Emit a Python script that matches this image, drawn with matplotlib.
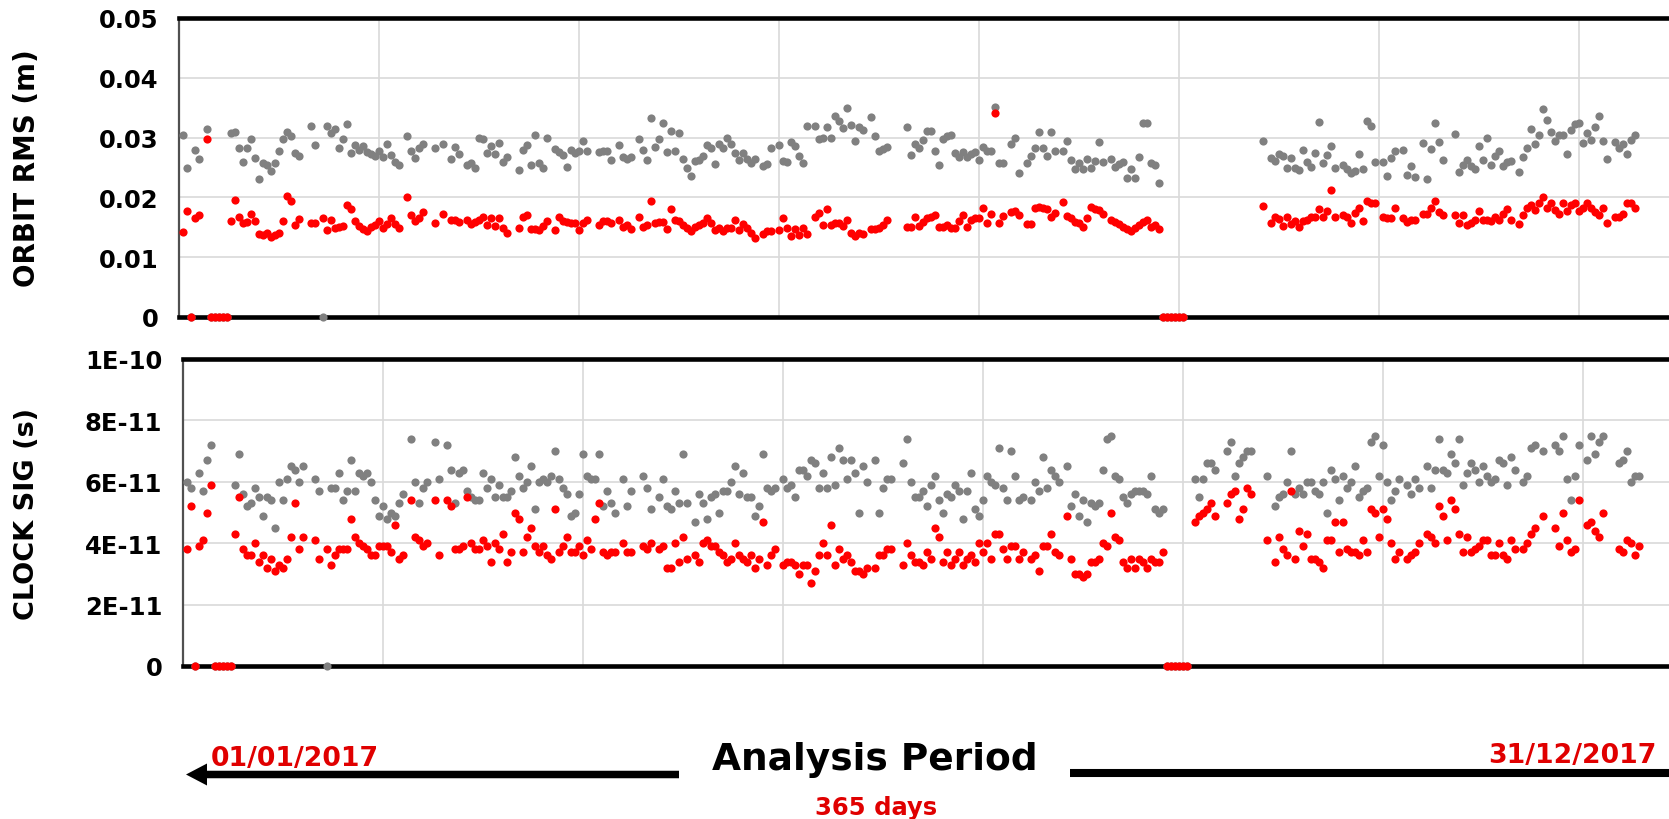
import numpy as np
import matplotlib
matplotlib.use("Agg")
import matplotlib.pyplot as plt
from matplotlib.patches import FancyArrow

# ---- orbit RMS (m), day of year ----
orbit_day = [
    1, 2, 3, 4, 5, 7, 8, 9, 10, 11,
    12, 13, 14, 15, 16, 17, 18, 19, 20, 21,
    22, 23, 24, 25, 26, 27, 28, 29, 30, 33,
    34, 36, 37, 38, 39, 40, 41, 42, 43, 44,
    45, 46, 47, 48, 49, 50, 51, 52, 53, 54,
    55, 57, 58, 59, 60, 61, 64, 66, 68, 69,
    70, 72, 73, 74, 75, 76, 77, 78, 79, 80,
    81, 82, 85, 86, 87, 88, 89, 90, 91, 92,
    94, 95, 96, 97, 98, 99, 100, 101, 102, 105,
    106, 107, 108, 110, 111, 112, 113, 115, 116, 117,
    118, 119, 120, 121, 122, 123, 124, 125, 126, 127,
    128, 129, 130, 131, 132, 133, 134, 135, 136, 137,
    138, 139, 140, 141, 142, 143, 144, 146, 147, 148,
    150, 151, 152, 153, 154, 155, 156, 157, 159, 160,
    161, 162, 163, 164, 165, 166, 167, 168, 169, 170,
    171, 173, 174, 175, 176, 177, 182, 183, 184, 185,
    186, 187, 188, 189, 190, 191, 192, 193, 194, 195,
    196, 197, 198, 199, 200, 201, 202, 203, 204, 205,
    206, 208, 209, 210, 212, 213, 214, 215, 216, 217,
    218, 219, 221, 222, 223, 224, 225, 226, 227, 228,
    229, 230, 231, 233, 234, 235, 236, 237, 238, 239,
    240, 241, 242, 243, 244, 245, 246, 247, 248, 249,
    250, 251, 271, 273, 274, 275, 276, 277, 278, 279,
    280, 281, 282, 283, 284, 285, 286, 287, 288, 289,
    291, 292, 293, 294, 295, 296, 297, 298, 299, 301,
    302, 303, 304, 306, 307, 308, 309, 311, 312, 313,
    314, 315, 316, 319, 320, 321, 322, 323, 324, 325,
    326, 327, 328, 329, 330, 331, 332, 333, 335, 336,
    337, 338, 339, 340, 341, 342, 343, 344, 345, 346,
    347, 348, 349, 350, 351, 352, 353, 354, 355, 356,
    357, 359, 360, 361, 362, 363, 364,
]
orbit_grey = [
    .0305, .0250, 0, .0280, .0264, .0315, 0, 0, 0, 0,
    0, .0308, .0310, .0282, .0259, .0283, .0298, .0266, .0230, .0258,
    .0254, .0244, .0257, .0277, .0297, .0309, .0302, .0275, .0270, .0319,
    .0287, 0, .0319, .0307, .0315, .0283, .0298, .0323, .0274, .0287,
    .0280, .0286, .0276, .0272, .0269, .0277, .0267, .0290, .0271, .0259,
    .0254, .0303, .0278, .0266, .0283, .0290, .0282, .0290, .0265, .0285,
    .0272, .0254, .0257, .0250, .0300, .0298, .0274, .0286, .0272, .0291,
    .0259, .0268, .0245, .0280, .0288, .0255, .0304, .0257, .0249, .0299,
    .0281, .0276, .0271, .0251, .0279, .0275, .0277, .0295, .0277, .0276,
    .0278, .0278, .0263, .0288, .0268, .0264, .0268, .0297, .0280, .0262,
    .0332, .0285, .0297, .0325, .0276, .0311, .0278, .0308, .0264, .0250,
    .0236, .0261, .0263, .0270, .0288, .0283, .0256, .0290, .0282, .0300,
    .0290, .0274, .0263, .0275, .0265, .0257, .0264, .0253, .0256, .0283,
    .0287, .0261, .0260, .0292, .0286, .0270, .0258, .0320, .0319, .0298,
    .0299, .0317, .0300, .0336, .0328, .0316, .0350, .0321, .0294, .0318,
    .0312, .0335, .0303, .0277, .0281, .0285, .0317, .0271, .0290, .0282,
    .0296, .0311, .0311, .0277, .0255, .0297, .0303, .0304, .0274, .0267,
    .0276, .0268, .0272, .0276, .0263, .0285, .0277, .0278, .0351, .0257,
    .0258, .0289, .0300, .0240, .0257, .0269, .0282, .0310, .0283, .0270,
    .0310, .0277, .0277, .0294, .0263, .0247, .0258, .0247, .0265, .0250,
    .0261, .0292, .0259, .0264, .0251, .0256, .0260, .0233, .0248, .0233,
    .0268, .0325, .0325, .0258, .0254, .0224, 0, 0, 0, 0,
    0, 0, .0295, .0266, .0261, .0273, .0270, .0249, .0266, .0249,
    .0245, .0279, .0259, .0251, .0275, .0326, .0258, .0271, .0286, .0249,
    .0255, .0247, .0240, .0244, .0272, .0247, .0328, .0320, .0259, .0259,
    .0236, .0266, .0278, .0280, .0237, .0252, .0234, .0291, .0230, .0281,
    .0325, .0293, .0263, .0306, .0243, .0254, .0263, .0253, .0248, .0286,
    .0263, .0299, .0255, .0270, .0278, .0252, .0260, .0261, .0242, .0267,
    .0282, .0315, .0290, .0304, .0347, .0329, .0310, .0294, .0304, .0304,
    .0272, .0312, .0323, .0325, .0291, .0307, .0296, .0317, .0336, .0295,
    .0265, .0293, .0283, .0289, .0272, .0296, .0304,
]
orbit_red = [
    .0142, .0178, 0, .0165, .0171, .0297, 0, 0, 0, 0,
    0, .0161, .0195, .0168, .0157, .0159, .0173, .0161, .0138, .0137,
    .0141, .0133, .0137, .0141, .0161, .0202, .0194, .0154, .0164, .0157,
    .0157, .0165, .0146, .0162, .0148, .0150, .0152, .0187, .0181, .0160,
    .0153, .0147, .0143, .0150, .0154, .0160, .0149, .0156, .0165, .0156,
    .0148, .0200, .0171, .0160, .0165, .0176, .0157, .0173, .0162, .0162,
    .0159, .0162, .0156, .0159, .0163, .0168, .0154, .0165, .0152, .0166,
    .0148, .0141, .0148, .0168, .0171, .0147, .0147, .0146, .0152, .0160,
    .0146, .0167, .0160, .0159, .0158, .0157, .0145, .0158, .0163, .0154,
    .0161, .0161, .0158, .0163, .0150, .0154, .0147, .0167, .0151, .0154,
    .0194, .0158, .0159, .0159, .0147, .0181, .0162, .0161, .0154, .0148,
    .0144, .0151, .0154, .0157, .0166, .0158, .0146, .0148, .0144, .0148,
    .0148, .0162, .0146, .0156, .0148, .0141, .0132, .0139, .0143, .0144,
    .0146, .0165, .0148, .0136, .0147, .0137, .0148, .0139, .0167, .0174,
    .0154, .0180, .0154, .0157, .0157, .0152, .0163, .0140, .0136, .0141,
    .0139, .0147, .0147, .0148, .0154, .0162, .0151, .0151, .0168, .0152,
    .0159, .0165, .0168, .0171, .0150, .0151, .0154, .0148, .0148, .0161,
    .0171, .0151, .0163, .0165, .0165, .0182, .0157, .0172, .0341, .0158,
    .0169, .0176, .0178, .0171, .0156, .0156, .0182, .0184, .0182, .0180,
    .0168, .0174, .0192, .0169, .0166, .0159, .0157, .0151, .0165, .0184,
    .0180, .0179, .0173, .0163, .0159, .0156, .0151, .0147, .0144, .0148,
    .0154, .0159, .0163, .0151, .0154, .0147, 0, 0, 0, 0,
    0, 0, .0186, .0158, .0167, .0164, .0152, .0167, .0156, .0161,
    .0150, .0160, .0163, .0167, .0168, .0181, .0167, .0178, .0213, .0168,
    .0170, .0167, .0158, .0174, .0183, .0161, .0194, .0190, .0190, .0167,
    .0165, .0165, .0182, .0165, .0159, .0163, .0162, .0173, .0172, .0182,
    .0194, .0176, .0171, .0171, .0157, .0171, .0154, .0158, .0163, .0177,
    .0162, .0162, .0161, .0167, .0163, .0173, .0180, .0163, .0155, .0171,
    .0182, .0187, .0179, .0191, .0201, .0182, .0190, .0179, .0173, .0191,
    .0177, .0187, .0191, .0177, .0182, .0190, .0183, .0176, .0170, .0183,
    .0158, .0167, .0168, .0172, .0191, .0191, .0183,
]

# ---- clock sigma (values in 1E-11 s) ----
clock_day = [
    1, 2, 3, 4, 5, 6, 7, 8, 9, 10,
    11, 12, 13, 14, 15, 16, 17, 18, 19, 20,
    21, 22, 23, 24, 25, 26, 27, 28, 29, 30,
    33, 34, 36, 37, 38, 39, 40, 41, 42, 43,
    44, 45, 46, 47, 48, 49, 50, 51, 52, 53,
    54, 55, 57, 58, 59, 60, 61, 63, 64, 66,
    67, 68, 69, 70, 71, 72, 73, 74, 75, 76,
    77, 78, 79, 80, 81, 82, 83, 84, 85, 86,
    87, 88, 89, 90, 91, 92, 93, 94, 95, 96,
    97, 98, 99, 100, 101, 102, 103, 104, 105, 106,
    107, 108, 110, 111, 112, 115, 116, 117, 119, 120,
    121, 122, 123, 124, 125, 126, 128, 129, 130, 131,
    132, 133, 134, 135, 136, 137, 138, 139, 140, 141,
    142, 143, 144, 145, 146, 147, 148, 150, 151, 152,
    153, 154, 155, 156, 157, 158, 159, 160, 161, 162,
    163, 164, 165, 166, 167, 168, 169, 170, 171, 173,
    174, 175, 176, 177, 180, 181, 182, 183, 184, 185,
    186, 187, 188, 189, 190, 191, 192, 193, 194, 195,
    196, 197, 198, 199, 200, 201, 202, 203, 204, 205,
    206, 207, 208, 209, 210, 212, 213, 214, 215, 216,
    217, 218, 219, 221, 222, 223, 224, 225, 226, 227,
    228, 229, 230, 231, 232, 233, 234, 235, 236, 237,
    238, 239, 240, 241, 242, 243, 244, 245, 246, 247,
    248, 249, 250, 251, 253, 254, 255, 256, 257, 258,
    261, 262, 263, 264, 265, 266, 267, 271, 273, 274,
    275, 276, 277, 278, 279, 280, 281, 282, 283, 284,
    285, 286, 287, 288, 289, 290, 291, 292, 293, 294,
    295, 296, 297, 298, 299, 300, 301, 302, 303, 304,
    306, 307, 308, 309, 311, 312, 313, 314, 315, 316,
    317, 318, 319, 320, 321, 322, 323, 324, 325, 326,
    327, 328, 329, 330, 331, 332, 333, 335, 336, 337,
    338, 340, 343, 344, 345, 346, 347, 348, 349, 351,
    352, 353, 354, 355, 359, 360, 361, 362, 363, 364,
]
clock_grey = [
    6.0, 5.8, 0, 6.3, 5.7, 6.7, 7.2, 0, 0, 0,
    0, 0, 5.9, 6.9, 5.6, 5.2, 5.3, 5.8, 5.5, 4.9,
    5.5, 5.4, 4.5, 6.0, 5.4, 6.1, 6.5, 6.4, 6.0, 6.5,
    6.1, 5.7, 0, 5.8, 5.8, 6.3, 5.4, 5.7, 6.7, 5.7,
    6.3, 6.2, 6.3, 6.0, 5.4, 4.9, 5.2, 4.8, 5.0, 4.9,
    5.3, 5.6, 7.4, 6.0, 5.3, 5.8, 6.0, 7.3, 6.1, 7.2,
    6.4, 5.3, 6.3, 6.4, 5.7, 5.5, 5.4, 5.4, 6.3, 5.8,
    6.1, 5.5, 5.9, 5.5, 5.5, 5.7, 6.8, 6.2, 5.8, 6.0,
    6.5, 5.1, 6.0, 6.1, 6.0, 6.2, 7.0, 6.1, 5.8, 5.6,
    4.9, 5.0, 5.6, 6.9, 6.2, 6.1, 6.1, 6.9, 5.2, 5.7,
    5.3, 5.0, 6.1, 5.2, 5.7, 6.2, 5.8, 5.1, 5.5, 6.1,
    5.2, 5.1, 5.7, 5.3, 6.9, 5.3, 4.7, 5.6, 5.3, 4.8,
    5.5, 5.6, 5.0, 5.7, 5.7, 6.0, 6.5, 5.6, 6.3, 5.5,
    5.5, 4.9, 5.2, 6.9, 5.8, 5.7, 5.8, 6.1, 5.8, 5.9,
    5.5, 6.4, 6.4, 6.2, 6.7, 6.6, 5.8, 6.3, 5.8, 6.8,
    5.9, 7.1, 6.7, 6.1, 6.7, 6.3, 5.0, 6.5, 6.0, 6.7,
    5.0, 5.8, 6.1, 6.1, 6.6, 7.4, 6.0, 5.5, 5.5, 5.7,
    5.2, 5.9, 6.2, 5.4, 5.0, 5.6, 5.5, 5.9, 5.7, 4.8,
    5.7, 6.3, 5.1, 4.9, 5.4, 6.2, 6.0, 5.9, 7.1, 5.8,
    5.4, 7.0, 6.2, 5.4, 5.5, 5.4, 6.0, 5.7, 6.8, 5.8,
    6.4, 6.2, 6.0, 6.5, 5.2, 5.6, 4.9, 5.4, 4.7, 5.3,
    5.2, 5.3, 6.4, 7.4, 7.5, 6.2, 6.1, 5.5, 5.3, 5.6,
    5.7, 5.7, 5.7, 5.6, 6.2, 5.1, 5.0, 5.1, 0, 0,
    0, 0, 0, 0, 6.1, 5.5, 6.1, 6.6, 6.6, 6.4,
    7.0, 7.3, 6.2, 6.6, 6.8, 7.0, 7.0, 6.2, 5.2, 5.5,
    5.6, 6.0, 7.0, 5.6, 5.8, 5.6, 6.0, 6.0, 5.7, 5.6,
    6.0, 5.0, 6.4, 6.1, 5.4, 6.2, 5.8, 6.0, 6.5, 5.5,
    5.7, 5.8, 7.3, 7.5, 6.2, 7.2, 6.0, 5.4, 5.7, 6.1,
    5.9, 5.6, 6.1, 5.8, 6.5, 5.8, 6.4, 7.4, 6.4, 6.3,
    6.9, 6.6, 7.4, 5.9, 6.3, 6.6, 6.4, 6.0, 6.5, 6.2,
    6.0, 6.1, 6.7, 6.6, 5.9, 6.8, 6.4, 6.0, 6.2, 7.1,
    7.2, 7.0, 7.2, 7.0, 7.5, 6.1, 5.4, 6.2, 7.2, 6.7,
    7.5, 6.9, 7.3, 7.5, 6.6, 6.7, 7.0, 6.0, 6.2, 6.2,
]
clock_red = [
    3.8, 5.2, 0, 3.9, 4.1, 5.0, 5.9, 0, 0, 0,
    0, 0, 4.3, 5.5, 3.8, 3.6, 3.6, 4.0, 3.4, 3.6,
    3.2, 3.5, 3.1, 3.3, 3.2, 3.5, 4.2, 5.3, 3.8, 4.2,
    4.1, 3.5, 3.8, 3.3, 3.6, 3.8, 3.8, 3.8, 4.8, 4.2,
    4.0, 3.9, 3.8, 3.6, 3.6, 3.9, 3.9, 3.9, 3.7, 4.6,
    3.5, 3.6, 5.4, 4.2, 4.1, 3.9, 4.0, 5.4, 3.6, 5.4,
    5.2, 3.8, 3.8, 3.9, 5.5, 4.0, 3.8, 3.8, 4.1, 3.9,
    3.4, 4.0, 3.8, 4.3, 3.4, 3.7, 5.0, 4.8, 3.7, 4.2,
    4.5, 3.9, 3.7, 3.9, 3.6, 3.5, 5.1, 3.7, 3.9, 4.2,
    3.7, 3.7, 3.9, 3.6, 4.1, 3.8, 4.8, 5.3, 3.7, 3.6,
    3.7, 3.7, 4.0, 3.7, 3.7, 3.9, 3.8, 4.0, 3.8, 3.9,
    3.2, 3.2, 4.0, 3.4, 4.2, 3.5, 3.6, 3.4, 4.0, 4.1,
    3.9, 3.9, 3.7, 3.6, 3.4, 3.5, 4.0, 3.6, 3.5, 3.4,
    3.6, 3.2, 3.5, 4.7, 3.3, 3.6, 3.8, 3.3, 3.4, 3.4,
    3.3, 3.0, 3.3, 3.3, 2.7, 3.1, 3.6, 4.0, 3.6, 4.6,
    3.3, 3.8, 3.5, 3.6, 3.4, 3.1, 3.1, 3.0, 3.2, 3.2,
    3.6, 3.6, 3.8, 3.8, 3.3, 4.0, 3.6, 3.4, 3.4, 3.3,
    3.7, 3.5, 4.5, 4.2, 3.4, 3.7, 3.3, 3.5, 3.7, 3.3,
    3.5, 3.6, 3.4, 4.0, 3.7, 4.0, 3.5, 4.3, 4.3, 3.8,
    3.5, 3.9, 3.9, 3.5, 3.7, 3.5, 3.6, 3.1, 3.9, 3.9,
    4.3, 3.7, 3.6, 4.9, 3.5, 3.0, 3.0, 2.9, 3.0, 3.4,
    3.4, 3.5, 4.0, 3.9, 5.0, 4.2, 4.1, 3.4, 3.2, 3.5,
    3.2, 3.5, 3.4, 3.2, 3.5, 3.4, 3.4, 3.7, 0, 0,
    0, 0, 0, 0, 4.7, 4.9, 5.0, 5.1, 5.3, 4.9,
    5.3, 5.6, 5.7, 4.8, 5.1, 5.8, 5.6, 4.1, 3.4, 4.2,
    3.8, 3.6, 5.7, 3.5, 4.4, 3.9, 4.3, 3.5, 3.5, 3.4,
    3.2, 4.1, 4.1, 4.7, 3.7, 4.7, 3.8, 3.7, 3.7, 3.6,
    4.1, 3.7, 5.1, 5.0, 4.2, 5.1, 4.8, 4.0, 3.5, 3.7,
    3.5, 3.6, 3.7, 4.0, 4.3, 4.2, 4.0, 5.2, 4.9, 4.1,
    5.4, 5.1, 4.3, 3.7, 4.2, 3.7, 3.8, 3.9, 4.1, 4.1,
    3.6, 3.6, 4.0, 3.6, 3.5, 4.1, 3.8, 3.8, 4.0, 4.3,
    4.5, 4.9, 4.5, 3.9, 5.0, 4.1, 3.7, 3.8, 5.4, 4.6,
    4.7, 4.4, 4.2, 5.0, 3.8, 3.7, 4.1, 4.0, 3.6, 3.9,
]

orbit_ticks = [0, 0.01, 0.02, 0.03, 0.04, 0.05]
orbit_ticklabels = ['0', '0.01', '0.02', '0.03', '0.04', '0.05']
clock_ticks = [0, 2e-11, 4e-11, 6e-11, 8e-11, 1e-10]
clock_ticklabels = ['0', '2E-11', '4E-11', '6E-11', '8E-11', '1E-10']
grid_days = [50, 100, 150, 200, 250, 300, 350]

GREY = '#808080'
RED = '#ff0000'
TXT_RED = '#e00000'

plt.rcParams['font.family'] = ['DejaVu Sans']
plt.rcParams['font.weight'] = 'bold'

W, H = 1669, 820
fig = plt.figure(figsize=(W / 100, H / 100), dpi=100)


def panel(rect, xmax, days, grey, red, ticks, ticklabels, label, label_size):
    ax = fig.add_axes(rect)
    ax.plot(days, grey, 'o', color=GREY, ms=5.9, mec='none', clip_on=False, zorder=3)
    ax.plot(days, red, 'o', color=RED, ms=5.9, mec='none', clip_on=False, zorder=4)
    ax.set_xlim(0, xmax)
    ax.set_ylim(ticks[0], ticks[-1])
    ax.set_xticks(grid_days)
    ax.set_yticks(ticks)
    ax.set_yticklabels(ticklabels)
    ax.tick_params(axis='x', length=0, labelbottom=False)
    ax.tick_params(axis='y', length=0, pad=15, labelsize=17.5)
    ax.grid(True, color='#d9d9d9', linewidth=1.2)
    ax.set_axisbelow(True)
    ax.spines['right'].set_visible(False)
    for s in ('top', 'bottom'):
        ax.spines[s].set_linewidth(3.3)
        ax.spines[s].set_color('black')
    ax.spines['left'].set_linewidth(1.6)
    ax.spines['left'].set_color('#505050')
    pos = ax.get_position()
    fig.text(27 / W, (pos.y0 + pos.y1) / 2, label, rotation=90, ha='center', va='center',
             fontsize=label_size, fontweight='bold')
    return ax


assert len(orbit_day) == len(orbit_grey) == len(orbit_red)
assert len(clock_day) == len(clock_grey) == len(clock_red)

panel([179 / W, 1 - 318 / H, 1490 / W, 299 / H], 372.5,
      orbit_day, orbit_grey, orbit_red, orbit_ticks, orbit_ticklabels, 'ORBIT RMS (m)', 20)
panel([183 / W, 1 - 667 / H, 1486 / W, 307 / H], 371.5,
      clock_day, np.array(clock_grey) * 1e-11, np.array(clock_red) * 1e-11,
      clock_ticks, clock_ticklabels, 'CLOCK SIG (s)', 19.5)

# bottom annotation, drawn in pixel coordinates
ov = fig.add_axes([0, 0, 1, 1])
ov.set_xlim(0, W)
ov.set_ylim(H, 0)
ov.axis('off')
ov.add_patch(FancyArrow(679, 775.5, -472, 0, width=7.5, head_width=22, head_length=21,
                        length_includes_head=False, color='black', lw=0))
ov.plot([1070, W], [774, 774], color='black', lw=5.8, solid_capstyle='butt')
ov.text(875, 770, 'Analysis Period', ha='center', va='baseline', fontsize=27, fontweight='bold')
ov.text(211, 766, '01/01/2017', ha='left', va='baseline', fontsize=19.3, fontweight='bold',
        color=TXT_RED)
ov.text(1657, 763, '31/12/2017', ha='right', va='baseline', fontsize=19.3, fontweight='bold',
        color=TXT_RED)
ov.text(876, 815, '365 days', ha='center', va='baseline', fontsize=17.5, fontweight='bold',
        color=TXT_RED)

fig.savefig('out.png', dpi=100)
